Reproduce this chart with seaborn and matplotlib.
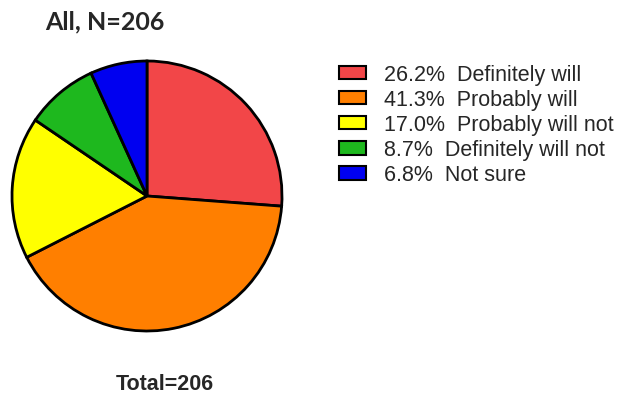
import matplotlib
matplotlib.use("Agg")
import matplotlib.pyplot as plt
import matplotlib.patches as mpatches
import seaborn as sns

categories = ["Definitely will", "Probably will", "Probably will not", "Definitely will not", "Not sure"]
percents = [26.2, 41.3, 17.0, 8.7, 6.8]
colors = ["#F24648", "#FF7F00", "#FFFF00", "#1EB81E", "#0000F0"]
title = "All, N=206"
footer = "Total=206"

sns.set_theme(style="white")
plt.rcParams['font.family'] = ['Liberation Sans', 'DejaVu Sans']

fig = plt.figure(figsize=(6.29, 4.02), dpi=100)
ax = fig.add_axes([(147 - 135) / 629, (205 - 135) / 402, 270 / 629, 270 / 402])
ax.pie(percents, colors=colors, startangle=90, counterclock=False,
       wedgeprops=dict(edgecolor="black", linewidth=2.0))
ax.set_xlim(-1.0, 1.0)
ax.set_ylim(-1.0, 1.0)
ax.set_aspect("equal")

fig.text(45 / 629, 1 - 22 / 402, title, fontsize=18, fontweight="bold",
         family=["Lato", "DejaVu Sans"], va="center", ha="left")
fig.text(165 / 629, 1 - 385 / 402, footer, fontsize=15.5, fontweight="bold",
         va="center", ha="center")

handles = [mpatches.Patch(facecolor=c, edgecolor="black", linewidth=1.5) for c in colors]
labels = [f"{p:.1f}%  {c}" for p, c in zip(percents, categories)]
fig.legend(handles, labels, loc="upper left", bbox_to_anchor=(339 / 629, 1 - 65 / 402),
           frameon=False, fontsize=15.5, handlelength=1.25, handleheight=0.6,
           handletextpad=0.85, labelspacing=0.19, borderpad=0, borderaxespad=0)

fig.savefig("out.png", dpi=100)
